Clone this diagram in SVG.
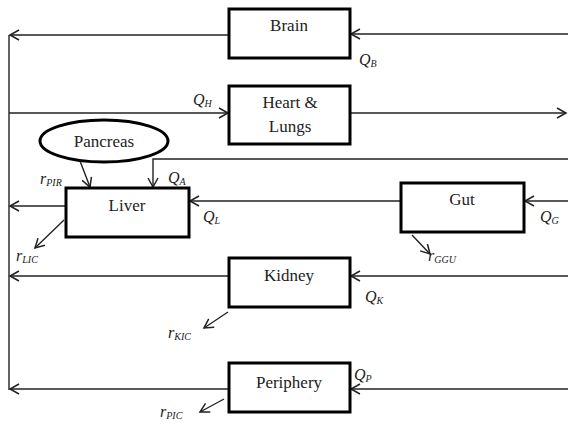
<svg xmlns="http://www.w3.org/2000/svg" width="568" height="425" viewBox="0 0 568 425">
<style>
.box{fill:#fff;stroke:#000;stroke-width:3}
.ln{fill:none;stroke:#222;stroke-width:1.4}
.t{font-family:"Liberation Serif","Times New Roman","DejaVu Serif",serif;font-size:17px;fill:#222;text-anchor:middle}
.q{font-family:"Liberation Serif","Times New Roman","DejaVu Serif",serif;font-style:italic;font-size:16px;fill:#222}
.s{font-size:10px}
</style>
<defs>
<marker id="a" markerWidth="12" markerHeight="12" refX="10" refY="6" orient="auto" markerUnits="userSpaceOnUse">
<path d="M1,1 L10,6 L1,11" fill="none" stroke="#222" stroke-width="1.5"/>
</marker>
</defs>
<rect width="568" height="425" fill="#fff"/>
<g id="connectors">
<path class="ln" d="M9,35 V390"/>
<path class="ln" d="M229,35 H10" marker-end="url(#a)"/>
<path class="ln" d="M568,34 H351" marker-end="url(#a)"/>
<path class="ln" d="M9,113 H228" marker-end="url(#a)"/>
<path class="ln" d="M351,113 H566" marker-end="url(#a)"/>
<path class="ln" d="M568,159 H153 V187" marker-end="url(#a)"/>
<path class="ln" d="M80,161 L90,187" marker-end="url(#a)"/>
<path class="ln" d="M66,206 H10" marker-end="url(#a)"/>
<path class="ln" d="M401,201 H190" marker-end="url(#a)"/>
<path class="ln" d="M64,220 L35,248" marker-end="url(#a)"/>
<path class="ln" d="M568,201 H525" marker-end="url(#a)"/>
<path class="ln" d="M412,235 L430,254" marker-end="url(#a)"/>
<path class="ln" d="M229,276 H10" marker-end="url(#a)"/>
<path class="ln" d="M568,276 H351" marker-end="url(#a)"/>
<path class="ln" d="M228,312 L204,328" marker-end="url(#a)"/>
<path class="ln" d="M229,389 H10" marker-end="url(#a)"/>
<path class="ln" d="M568,389 H351" marker-end="url(#a)"/>
<path class="ln" d="M224,399 L200,412" marker-end="url(#a)"/>
</g>
<g id="brain"><rect class="box" x="229" y="9" width="121" height="49"/><text class="t" x="289" y="31">Brain</text></g>
<g id="heart"><rect class="box" x="229" y="86" width="121" height="58"/><text class="t" x="290" y="108">Heart &amp;</text><text class="t" x="290" y="132">Lungs</text></g>
<g id="pancreas"><ellipse cx="104" cy="141" rx="64" ry="21" fill="#fff" stroke="#000" stroke-width="3"/><text class="t" x="104" y="147">Pancreas</text></g>
<g id="liver"><rect class="box" x="66" y="188" width="123" height="49"/><text class="t" x="127" y="211">Liver</text></g>
<g id="gut"><rect class="box" x="401" y="183" width="123" height="49"/><text class="t" x="462" y="205">Gut</text></g>
<g id="kidney"><rect class="box" x="229" y="258" width="121" height="49"/><text class="t" x="289" y="281">Kidney</text></g>
<g id="periphery"><rect class="box" x="229" y="363" width="121" height="49"/><text class="t" x="289" y="388">Periphery</text></g>
<g id="labels">
<text class="q" x="359" y="65">Q<tspan class="s" dy="2">B</tspan></text>
<text class="q" x="193" y="105">Q<tspan class="s" dy="2">H</tspan></text>
<text class="q" x="168" y="183">Q<tspan class="s" dy="2">A</tspan></text>
<text class="q" x="203" y="222">Q<tspan class="s" dy="2">L</tspan></text>
<text class="q" x="540" y="222">Q<tspan class="s" dy="2">G</tspan></text>
<text class="q" x="365" y="302">Q<tspan class="s" dy="2">K</tspan></text>
<text class="q" x="354" y="380">Q<tspan class="s" dy="2">P</tspan></text>
<text class="q" x="40" y="184">r<tspan class="s" dy="2">PIR</tspan></text>
<text class="q" x="16" y="261">r<tspan class="s" dy="2">LIC</tspan></text>
<text class="q" x="428" y="261">r<tspan class="s" dy="2">GGU</tspan></text>
<text class="q" x="168" y="338">r<tspan class="s" dy="2">KIC</tspan></text>
<text class="q" x="160" y="417">r<tspan class="s" dy="2">PIC</tspan></text>
</g>
</svg>
